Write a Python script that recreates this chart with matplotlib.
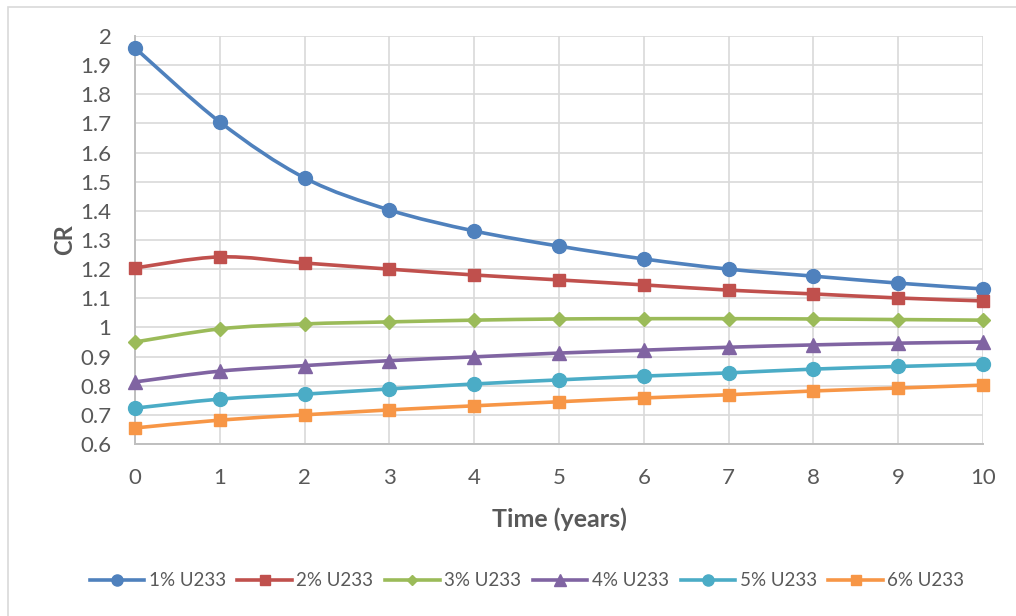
import numpy as np
import matplotlib
matplotlib.use("Agg")
from matplotlib import pyplot as plt
from matplotlib.path import Path
from matplotlib.patches import PathPatch, Rectangle
from matplotlib.lines import Line2D

years = [0, 1, 2, 3, 4, 5, 6, 7, 8, 9, 10]
cr_1 = [1.959, 1.705, 1.513, 1.403, 1.331, 1.279, 1.235, 1.200, 1.176, 1.152, 1.132]
cr_2 = [1.204, 1.242, 1.221, 1.200, 1.180, 1.163, 1.146, 1.128, 1.115, 1.101, 1.091]
cr_3 = [0.950, 0.995, 1.012, 1.019, 1.025, 1.029, 1.030, 1.030, 1.029, 1.027, 1.025]
cr_4 = [0.813, 0.850, 0.869, 0.886, 0.899, 0.912, 0.922, 0.932, 0.940, 0.946, 0.950]
cr_5 = [0.723, 0.754, 0.771, 0.789, 0.806, 0.820, 0.833, 0.844, 0.857, 0.866, 0.874]
cr_6 = [0.655, 0.682, 0.700, 0.717, 0.731, 0.745, 0.758, 0.769, 0.782, 0.792, 0.802]
labels = ["1% U233", "2% U233", "3% U233", "4% U233", "5% U233", "6% U233"]

colors = ["#4F81BD", "#C0504D", "#9BBB59", "#8064A2", "#4BACC6", "#F79646"]
markers = ["o", "s", "D", "^", "o", "s"]
msizes = [10, 9, 7, 10, 10, 9]
text_col = "#595959"

plt.rcParams['font.family'] = ['Lato', 'DejaVu Sans']


def smooth_path(x, y):
    """ Сглаженная линия как в Excel: сегменты Катмулла-Рома в виде кривых Безье """
    x = np.asarray(x, float)
    y = np.asarray(y, float)
    verts = [(x[0], y[0])]
    codes = [Path.MOVETO]
    n = len(x)
    for i in range(n - 1):
        i0 = max(i - 1, 0)
        i3 = min(i + 2, n - 1)
        c1 = (x[i] + (x[i + 1] - x[i0]) / 6, y[i] + (y[i + 1] - y[i0]) / 6)
        c2 = (x[i + 1] - (x[i3] - x[i]) / 6, y[i + 1] - (y[i3] - y[i]) / 6)
        verts += [c1, c2, (x[i + 1], y[i + 1])]
        codes += [Path.CURVE4] * 3
    return Path(verts, codes)


fig = plt.figure(figsize=(10.16, 6.16), dpi=100)
ax = fig.add_axes([135 / 1016, 1 - 444 / 616, 848 / 1016, 408 / 616])

# рамка вокруг диаграммы
fig.patches.append(Rectangle((8 / 1016, -0.05), 1.2, 1 - 7 / 616 + 0.05,
                             transform=fig.transFigure, fill=False,
                             edgecolor="#D9D9D9", linewidth=1.2))

series = [cr_1, cr_2, cr_3, cr_4, cr_5, cr_6]
handles = []
for vals, col, mk, ms, lab in zip(series, colors, markers, msizes, labels):
    ax.add_patch(PathPatch(smooth_path(years, vals), fill=False, edgecolor=col,
                           linewidth=2.6, capstyle='round', zorder=3))
    ax.plot(years, vals, linestyle='none', marker=mk, ms=ms, color=col, zorder=4,
            clip_on=False)
    handles.append(Line2D([], [], color=col, linewidth=2.6, marker=mk, ms=ms * 0.8))

ax.set_xlim(0, 10)
ax.set_ylim(0.6, 2.0)
ax.set_xticks(years)
yt = np.round(np.arange(0.6, 2.001, 0.1), 1)
ax.set_yticks(yt)
ax.set_yticklabels([("%g" % v) for v in yt])
ax.grid(True, color="#D9D9D9", linewidth=1.2)
ax.set_axisbelow(True)
for s in ["top", "right"]:
    ax.spines[s].set_visible(False)
for s in ["left", "bottom"]:
    ax.spines[s].set_color("#BFBFBF")
    ax.spines[s].set_linewidth(1.4)
ax.tick_params(length=0, labelsize=16, colors=text_col)
ax.tick_params(axis='y', pad=17)
ax.tick_params(axis='x', pad=17)

ax.set_xlabel("Time (years)", fontsize=18, fontweight='bold', color=text_col, labelpad=14)
ax.set_ylabel("CR", fontsize=17, fontweight='bold', color=text_col, labelpad=3)

fig.legend(handles, labels, loc='center', bbox_to_anchor=(527 / 1016, 1 - 581 / 616),
           ncol=6, frameon=False, fontsize=13.5, handlelength=2.9, handletextpad=0.25,
           columnspacing=0.62, labelcolor=text_col)

fig.savefig("out.png", dpi=100)
